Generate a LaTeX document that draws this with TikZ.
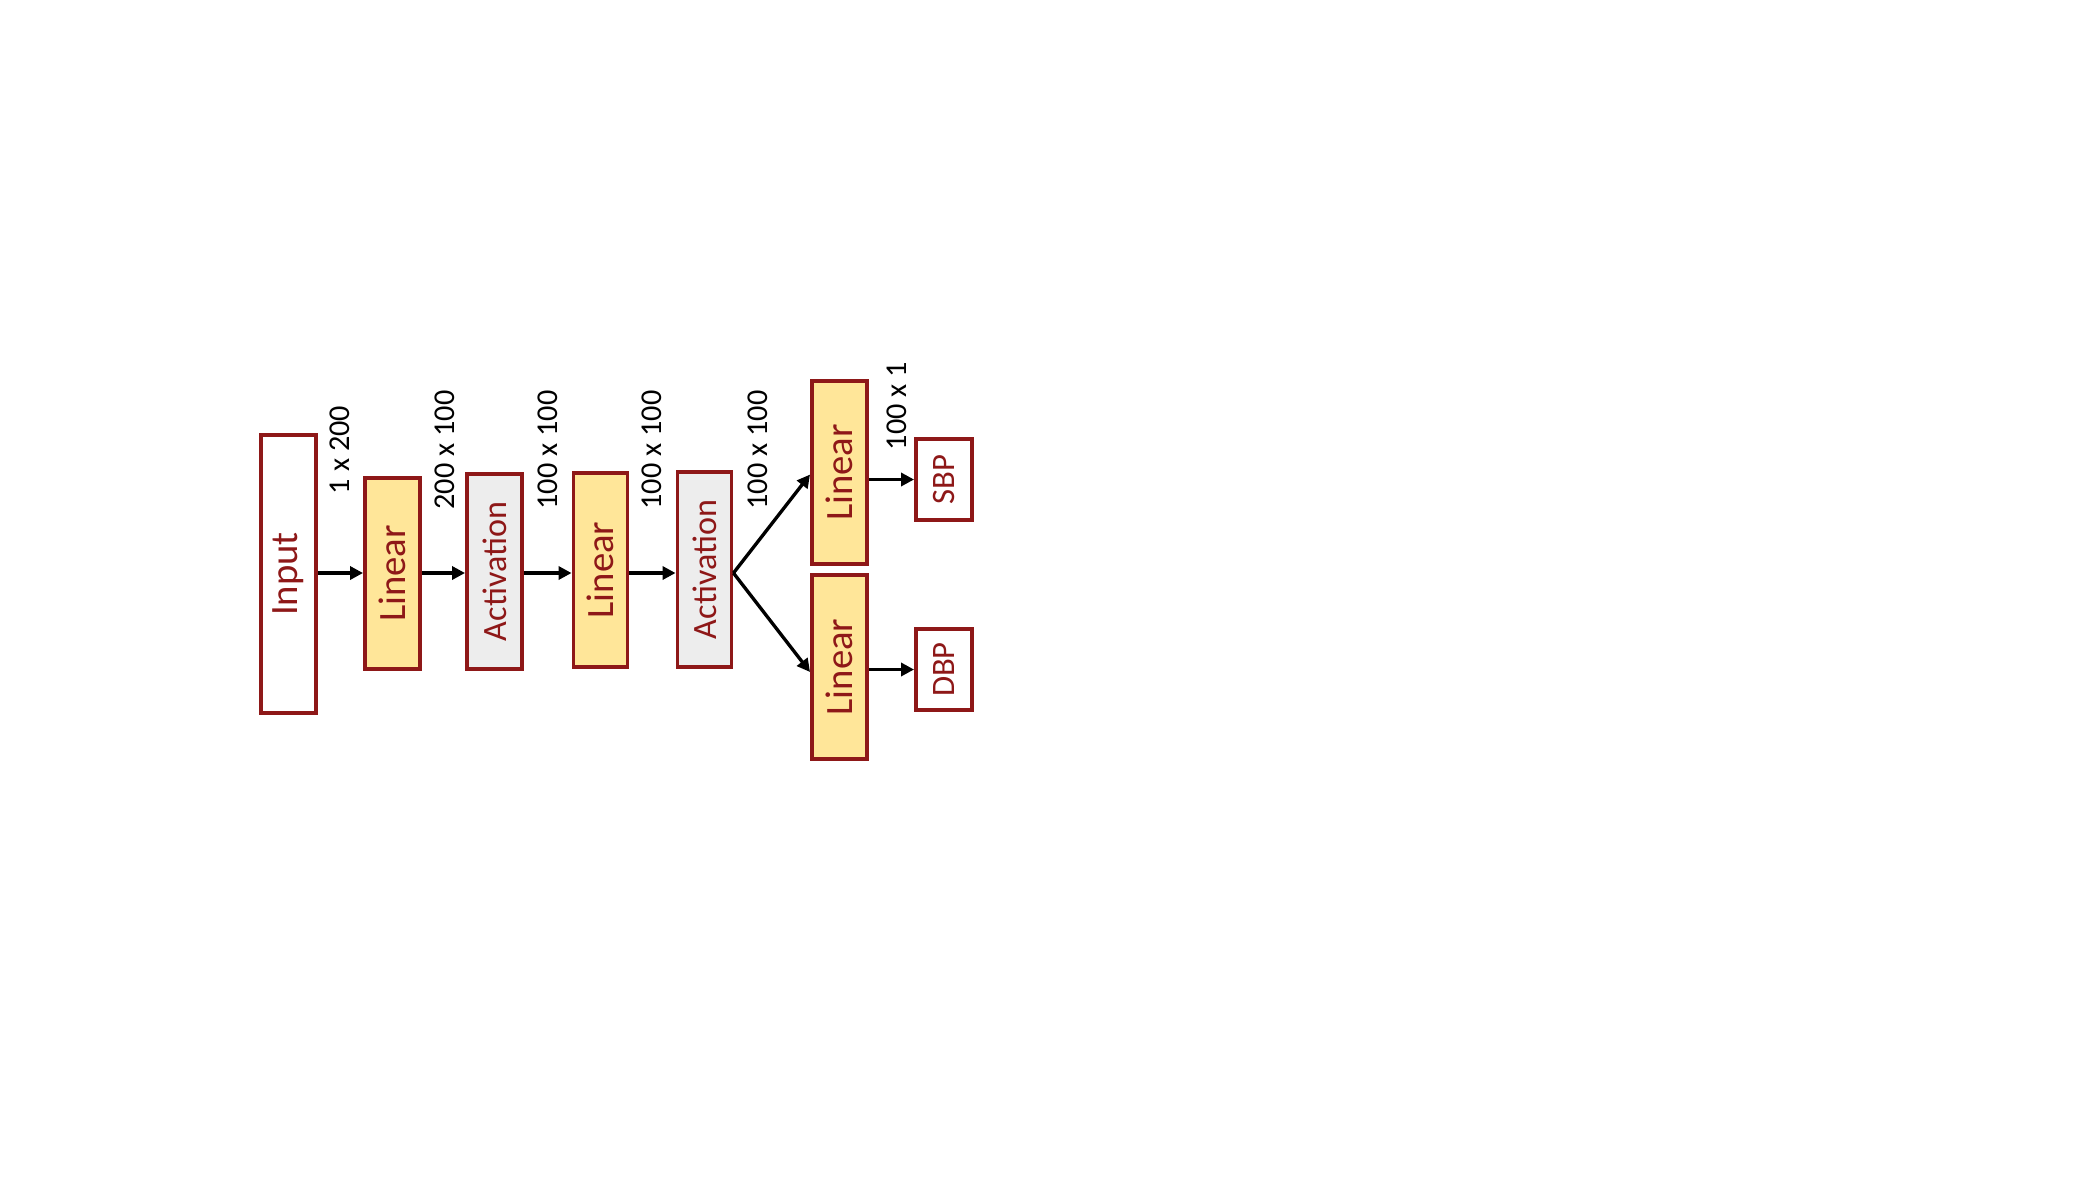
\documentclass[tikz,border=0pt]{standalone}
\usepackage{fontspec}
\setmainfont{Carlito}
\usetikzlibrary{arrows.meta}
\definecolor{dred}{RGB}{142,24,24}
\definecolor{lyellow}{RGB}{255,230,153}
\definecolor{lgray}{RGB}{237,237,237}
\tikzset{
  box/.style={draw=dred, line width=1.1pt, inner sep=0pt, text=dred, rotate=90, font=\fontsize{11}{13}\selectfont},
  linbox/.style={box, fill=lyellow},
  actbox/.style={box, fill=lgray, font=\fontsize{9.7}{12}\selectfont},
  outbox/.style={box, fill=white, font=\fontsize{9.3}{11}\selectfont},
  dimlabel/.style={rotate=90, inner sep=0pt, font=\fontsize{8.6}{10}\selectfont, text=black},
  conn/.style={line width=0.95pt, -{Triangle[length=0.13cm,width=0.13cm]}}
}
\begin{document}
\begin{tikzpicture}[x=0.01cm, y=-0.01cm]
\useasboundingbox (0,0) rectangle (2100,1181);
% boxes (rotated: minimum width -> vertical extent)
\node[box, fill=white, minimum width=2.78cm, minimum height=0.55cm] (in) at (288.5,574) {Input};
\node[linbox, minimum width=1.91cm, minimum height=0.55cm] (l1) at (392.5,573.5) {Linear};
\node[actbox, minimum width=1.95cm, minimum height=0.55cm] (a1) at (494.5,571.5) {Activation};
\node[linbox, minimum width=1.94cm, minimum height=0.54cm] (l2) at (600.5,570) {Linear};
\node[actbox, minimum width=1.95cm, minimum height=0.54cm] (a2) at (704.5,569.5) {Activation};
\node[linbox, minimum width=1.83cm, minimum height=0.55cm] (l3) at (839.5,472.5) {Linear};
\node[linbox, minimum width=1.84cm, minimum height=0.55cm] (l4) at (839.5,667) {Linear};
\node[outbox, minimum width=0.81cm, minimum height=0.56cm] (sbp) at (944,479.5) {SBP};
\node[outbox, minimum width=0.81cm, minimum height=0.56cm] (dbp) at (944,669.5) {DBP};
% axis of the main chain
\coordinate (axis) at (0,573);
% connectors
\draw[conn] (in.south |- axis) -- (l1.north |- axis);
\draw[conn] (l1.south |- axis) -- (a1.north |- axis);
\draw[conn] (a1.south |- axis) -- (l2.north |- axis);
\draw[conn] (l2.south |- axis) -- (a2.north |- axis);
\draw[conn] (a2.south |- axis) -- ([yshift=-0.02cm]l3.north);
\draw[conn] (a2.south |- axis) -- ([yshift=-0.05cm]l4.north);
\draw[conn] (l3.south |- sbp.north) -- (sbp.north);
\draw[conn] (l4.south |- dbp.north) -- (dbp.north);
% dimension labels
\node[dimlabel] (d1) at (340,450) {1 x 200};
\node[dimlabel] (d2) at (445,450) {200 x 100};
\node[dimlabel] (d3) at (548,450) {100 x 100};
\node[dimlabel] (d4) at (652,450) {100 x 100};
\node[dimlabel] (d5) at (758,450) {100 x 100};
\node[dimlabel] (d6) at (897,406) {100 x 1};
\end{tikzpicture}
\end{document}
